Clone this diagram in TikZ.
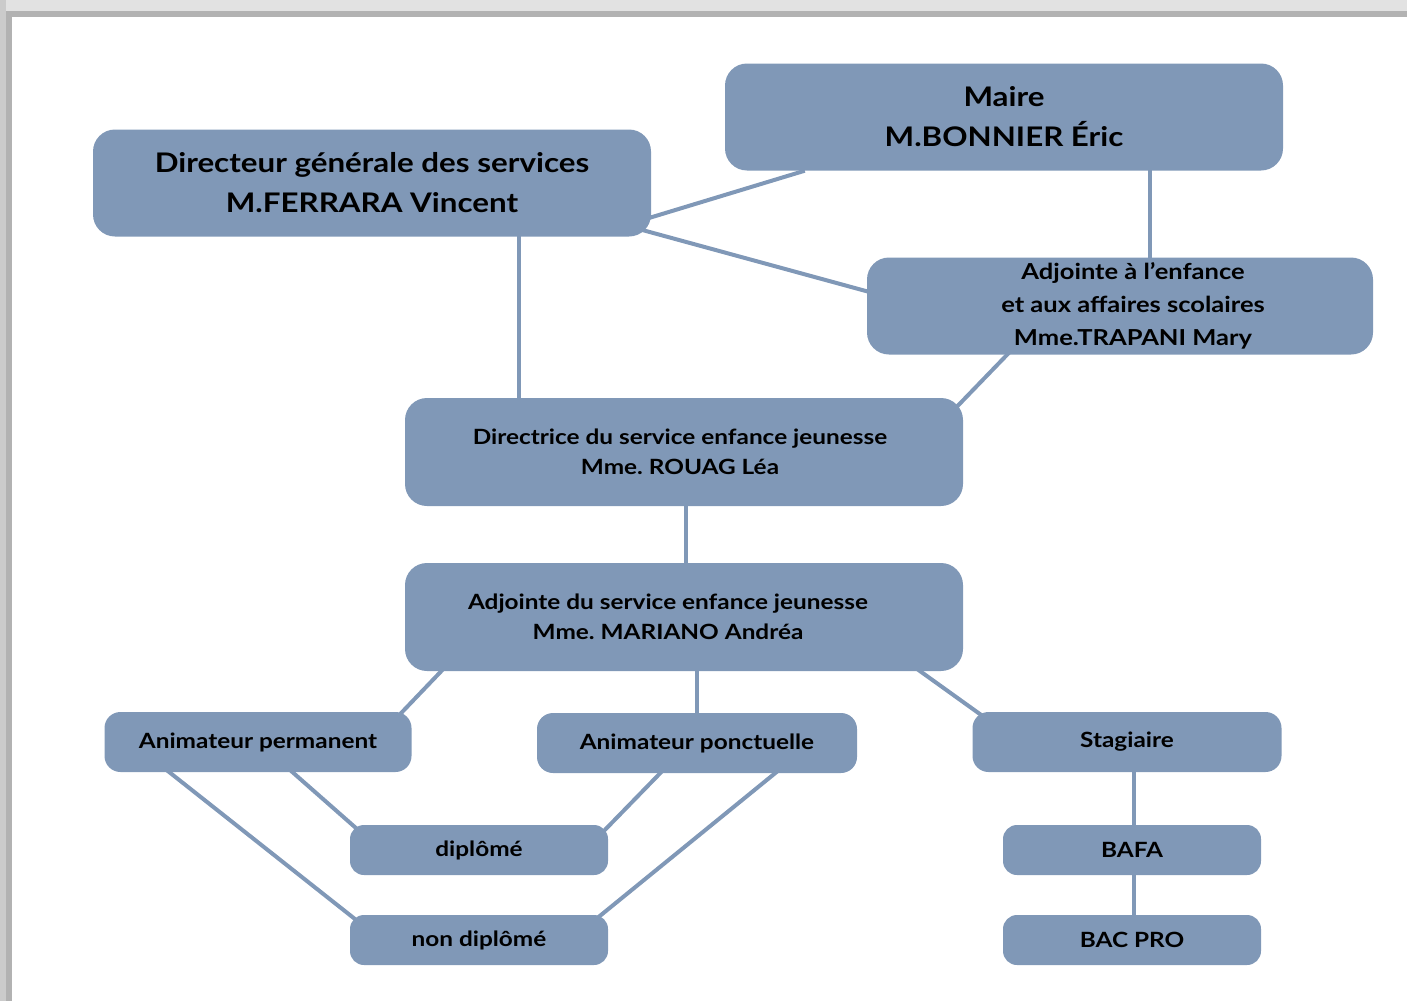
\documentclass[tikz,border=0pt]{standalone}
\usepackage{fontspec}
\setmainfont{Lato}[FakeStretch=1.16]
\usepackage{tikz}
\usetikzlibrary{positioning,calc,backgrounds}
\usepackage{xcolor}
\definecolor{boxblue}{RGB}{128,152,183}
\definecolor{framelight}{RGB}{226,226,226}
\definecolor{framedark}{RGB}{178,178,178}
\frenchspacing

\begin{document}
\begin{tikzpicture}
[
    x=1pt,y=-1pt,
    mybox/.style={rectangle,rounded corners=22pt,fill=boxblue,align=center,inner sep=0pt,font=\bfseries},
    bigbox/.style={mybox,minimum width=558pt,minimum height=107pt,font=\bfseries\fontsize{27}{40}\selectfont},
    midbox/.style={mybox,minimum height=108pt,font=\bfseries\fontsize{21}{30}\selectfont},
    namebox/.style={mybox,rounded corners=16pt,minimum height=60pt,font=\bfseries\fontsize{21}{25}\selectfont},
    smallbox/.style={mybox,rounded corners=14pt,minimum width=258pt,minimum height=50pt,font=\bfseries\fontsize{21}{25}\selectfont},
    link/.style={draw=boxblue,line width=4pt}
]
\useasboundingbox (0,0) rectangle (1407,1001);

\node (maire) at (1004,117) [bigbox] {Maire\\M.BONNIER Éric};
\node (dgs) at (372,183) [bigbox] {Directeur générale des services\\M.FERRARA Vincent};
\node (adjenf) at (1120,306) [midbox,minimum width=506pt,minimum height=97pt,font=\bfseries\fontsize{22}{33}\selectfont] {\hspace*{26pt}Adjointe à l’enfance\\\hspace*{26pt}et aux affaires scolaires\\\hspace*{26pt}Mme.TRAPANI Mary};
\node (directrice) at (684,452) [midbox,minimum width=558pt] {Directrice du service enfance jeunesse\hspace*{8pt}\\Mme. ROUAG Léa\hspace*{8pt}};
\node (adjserv) at (684,617) [midbox,minimum width=558pt] {Adjointe du service enfance jeunesse\hspace*{32pt}\\Mme. MARIANO Andréa\hspace*{32pt}};

\node (animperm) at (258,742) [namebox,minimum width=307pt] {Animateur permanent};
\node (animponct) at (697,743) [namebox,minimum width=320pt] {Animateur ponctuelle};
\node (stagiaire) at (1127,742) [namebox,minimum width=309pt] {Stagiaire};

\node (diplome) at (479,850) [smallbox] {diplômé};
\node (nondiplome) at (479,940) [smallbox] {non diplômé};
\node (bafa) at (1132,850) [smallbox] {BAFA};
\node (bacpro) at (1132,940) [smallbox] {BAC PRO};

\begin{scope}[on background layer]
% cadre
\fill[framelight] (0,0) rectangle (1407,11);
\fill[framedark] (12,11) rectangle (1407,17);
\fill[framelight!90!black] (0,0) rectangle (6,1001);
\fill[framedark] (6,11) rectangle (12,1001);

% liens
\draw[link] ($(maire.south west)+(80,0)$) -- ($(dgs.south east)+(-21,-13)$);
\draw[link] ($(maire.south)+(146,-5)$) -- ($(adjenf.north)+(30,5)$);
\draw[link] ($(dgs.south east)+(-21,-10)$) -- ($(adjenf.west)+(10,-12)$);
\draw[link] ($(dgs.south)+(147,-5)$) -- ($(directrice.north)+(-165,5)$);
\draw[link] ($(adjenf.south)+(-110,-3)$) -- ($(directrice.north east)+(-18,21)$);
\draw[link] ($(directrice.south)+(2,-5)$) -- ($(adjserv.north)+(2,5)$);
\draw[link] ($(adjserv.south west)+(45,-9)$) -- ($(animperm.north east)+(-17,8)$);
\draw[link] ($(adjserv.south)+(13,-5)$) -- ($(animponct.north)+(0,5)$);
\draw[link] ($(adjserv.south east)+(-50,-5)$) -- ($(stagiaire.north west)+(17,9)$);
\draw[link] ($(animperm.south west)+(60,-4)$) -- ($(nondiplome.north west)+(15,12)$);
\draw[link] ($(animperm.south)+(30,-4)$) -- ($(diplome.north west)+(15,11)$);
\draw[link] ($(animponct.south)+(-32,-5)$) -- ($(diplome.north east)+(-10,12)$);
\draw[link] ($(animponct.south)+(83,-4)$) -- ($(nondiplome.north east)+(-18,9)$);
\draw[link] ($(stagiaire.south)+(7,-5)$) -- ($(bafa.north)+(2,5)$);
\draw[link] ($(bafa.south)+(2,-5)$) -- ($(bacpro.north)+(2,5)$);
\end{scope}
\end{tikzpicture}
\end{document}
